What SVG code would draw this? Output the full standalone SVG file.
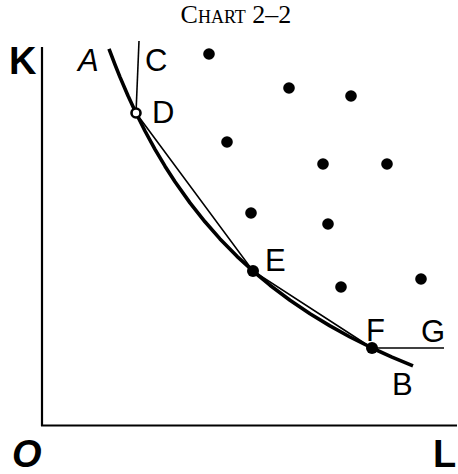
<svg xmlns="http://www.w3.org/2000/svg" width="458" height="474" viewBox="0 0 458 474">
<style>
.lbl{font-family:"Liberation Sans","DejaVu Sans",sans-serif;font-size:31px;fill:#000}
.ax{font-family:"Liberation Sans","DejaVu Sans",sans-serif;font-size:38px;font-weight:bold;fill:#000}
.thin{stroke:#000;stroke-width:1.6;fill:none}
.dot{fill:#000}
</style>
<rect width="458" height="474" fill="#fff"/>
<text x="236" y="23" text-anchor="middle" font-family="Liberation Serif, serif" font-size="26" font-variant="small-caps">Chart 2–2</text>
<g id="axes">
<line x1="42" y1="47" x2="42" y2="426" stroke="#000" stroke-width="2.2"/>
<line x1="41" y1="425.5" x2="457" y2="425.5" stroke="#000" stroke-width="2.2"/>
<text class="ax" x="9" y="74">K</text>
<text class="ax" x="12" y="467" font-style="italic">O</text>
<text class="ax" x="433" y="467">L</text>
</g>
<g id="connectors">
<path id="curveAB" d="M109,48.9 L115,64.7 L120,77.1 L128,95.7 L136,113 L145,131 L155,149.3 L165,166.2 L175,181.7 L190,202.9 L205,221.8 L220,238.9 L237,256.3 L253,271 L270,285.2 L290,300.2 L310,313.7 L330,325.9 L350,337 L372,348 L392,357.1 L413,365.9" fill="none" stroke="#000" stroke-width="3.6" stroke-linejoin="round"/>
<polyline id="chord" class="thin" points="136,113 253,271 372,348"/>
<line id="lineC" class="thin" x1="139" y1="41" x2="136" y2="113"/>
<line id="lineG" class="thin" x1="372" y1="348" x2="444" y2="348"/>
</g>
<g id="labels">
<text class="lbl" x="78" y="71" font-style="italic">A</text>
<text class="lbl" x="145" y="71">C</text>
<text class="lbl" x="152" y="123">D</text>
<text class="lbl" x="265" y="271">E</text>
<text class="lbl" x="366" y="341">F</text>
<text class="lbl" x="421" y="342">G</text>
<text class="lbl" x="392" y="395">B</text>
</g>
<g id="pointD"><circle cx="136" cy="113" r="4.5" fill="#fff" stroke="#000" stroke-width="2.6"/></g>
<g id="pointE"><circle class="dot" cx="253" cy="271" r="6"/></g>
<g id="pointF"><circle class="dot" cx="372" cy="348" r="6"/></g>
<g id="dots">
<circle class="dot" cx="209" cy="54" r="5.8"/>
<circle class="dot" cx="289" cy="88" r="5.8"/>
<circle class="dot" cx="351" cy="96" r="5.8"/>
<circle class="dot" cx="227" cy="142" r="5.8"/>
<circle class="dot" cx="323" cy="164" r="5.8"/>
<circle class="dot" cx="387" cy="164" r="5.8"/>
<circle class="dot" cx="251" cy="213" r="5.8"/>
<circle class="dot" cx="328" cy="224" r="5.8"/>
<circle class="dot" cx="341" cy="287" r="5.8"/>
<circle class="dot" cx="421" cy="279" r="5.8"/>
</g>
</svg>
